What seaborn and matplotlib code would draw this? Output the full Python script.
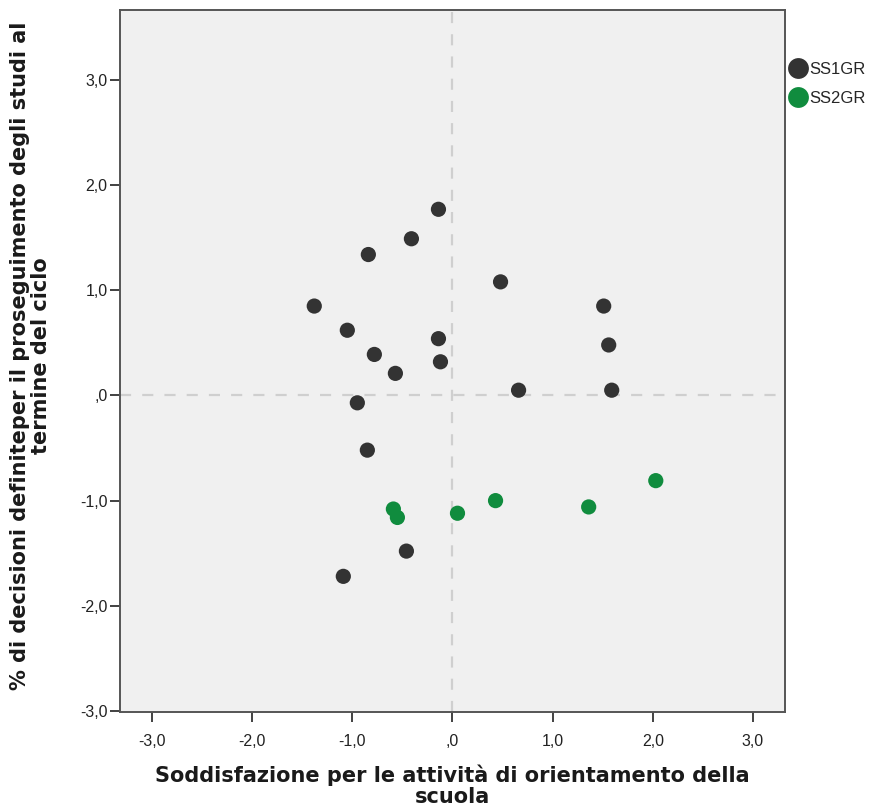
import matplotlib
matplotlib.use("Agg")
import matplotlib.pyplot as plt
import seaborn as sns
import pandas as pd
from matplotlib.lines import Line2D
from matplotlib.ticker import FixedLocator

# Standardised scores per school
ss1_x = [-0.14, -0.41, -0.84, 0.48, -1.38, 1.51, -1.05, -0.14, 1.56,
         -0.78, -0.12, -0.57, 0.66, 1.59, -0.95, -0.85, -0.46, -1.09]
ss1_y = [1.77, 1.49, 1.34, 1.08, 0.85, 0.85, 0.62, 0.54, 0.48,
         0.39, 0.32, 0.21, 0.05, 0.05, -0.07, -0.52, -1.48, -1.72]
ss2_x = [-0.59, -0.55, 0.05, 0.43, 1.36, 2.03]
ss2_y = [-1.08, -1.16, -1.12, -1.00, -1.06, -0.81]
groups = ["SS1GR", "SS2GR"]
tick_values = [-3.0, -2.0, -1.0, 0.0, 1.0, 2.0, 3.0]
tick_labels = ["-3,0", "-2,0", "-1,0", ",0", "1,0", "2,0", "3,0"]

x_title = "Soddisfazione per le attività di orientamento della\nscuola"
y_title = "% di decisioni definiteper il proseguimento degli studi al\ntermine del ciclo"

df = pd.DataFrame({
    "x": ss1_x + ss2_x,
    "y": ss1_y + ss2_y,
    "grp": [groups[0]] * len(ss1_x) + [groups[1]] * len(ss2_x),
})

colors = {"SS1GR": "#333333", "SS2GR": "#108c3e"}

sns.set_style("white")
plt.rcParams["font.family"] = ["Liberation Sans", "DejaVu Sans"]

fig = plt.figure(figsize=(8.9, 8.07), dpi=100)
ax = fig.add_axes([0.1348, 0.1177, 0.882 - 0.1348, 0.9876 - 0.1177])
ax.set_facecolor("#f0f0f0")

# reference lines through the origin
ax.axvline(0, color="#cfcfcf", lw=1.6, ls=(0, (5, 5)), zorder=1)
ax.axhline(0, color="#cfcfcf", lw=1.6, ls=(0, (5, 5)), zorder=1)

sns.scatterplot(data=df, x="x", y="y", hue="grp", palette=colors,
                s=120, linewidth=0, legend=False, ax=ax, zorder=3)

ax.set_xlim(-3.32, 3.32)
ax.set_ylim(-3.01, 3.665)
ax.xaxis.set_major_locator(FixedLocator(tick_values))
ax.yaxis.set_major_locator(FixedLocator(tick_values))
ax.set_xticklabels(tick_labels)
ax.set_yticklabels(tick_labels)
ax.tick_params(axis="both", direction="out", length=7, width=1.3,
               color="#333333", labelsize=11.5, labelcolor="#222222",
               bottom=True, left=True)
ax.tick_params(axis="x", pad=9)
ax.tick_params(axis="y", pad=2)

for sp in ax.spines.values():
    sp.set_color("#555555")
    sp.set_linewidth(1.4)

title_font = dict(family="DejaVu Sans", fontsize=15, fontweight="bold",
                  color="#1a1a1a", linespacing=1.05)
ax.set_xlabel(x_title, labelpad=11, **title_font)
ax.set_ylabel(y_title, **title_font)
ax.yaxis.set_label_coords(-0.104, 0.508)

handles = [Line2D([0], [0], marker="o", ls="", markersize=15,
                  markerfacecolor=colors[g], markeredgewidth=0, label=g)
           for g in groups]
fig.legend(handles=handles, loc="upper left", bbox_to_anchor=(0.878, 0.932),
           frameon=False, fontsize=12, handletextpad=0.1,
           labelspacing=0.85, borderaxespad=0, handlelength=1.2)

fig.savefig("out.png", dpi=100)
